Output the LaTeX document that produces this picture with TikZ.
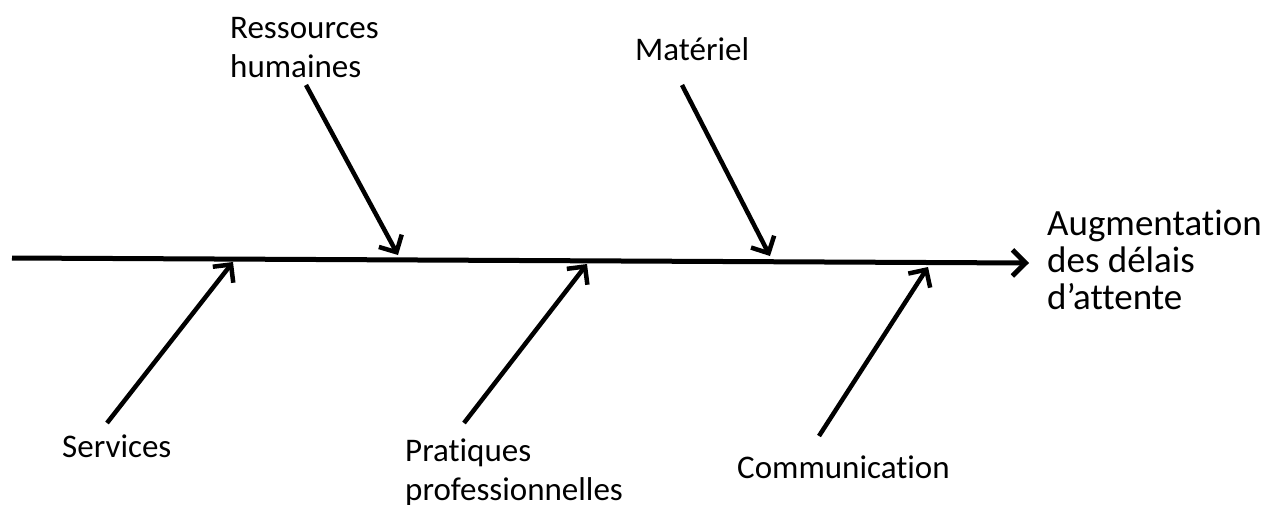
\documentclass[tikz,border=0pt]{standalone}
\usepackage{fontspec}
\setmainfont{Carlito}[Ligatures=NoCommon]
\usepackage{tikz}
\usetikzlibrary{arrows.meta}
\tikzset{>={Straight Barb[length=13pt,width=26pt]}}

\begin{document}
\begin{tikzpicture}[x=1pt, y=-1pt,
    cause/.style={anchor=base west, inner sep=0, align=left, font=\fontsize{33}{39}\selectfont},
    bone/.style={line width=4.5pt, ->}]
    \useasboundingbox (0, 0) rectangle (1267, 504);
    \coordinate (tail) at (12, 258);
    \coordinate (head) at (1029, 263);
    \draw[line width=5pt, ->] (tail) -- (head);
    \node[cause, font=\fontsize{37}{37}\selectfont] (effet) at (1047, 309) {Augmentation\\des délais\\d’attente};

    \node[cause] (rh) at (230, 77) {Ressources\\humaines};
    \node[cause] (mat) at (635, 60) {Matériel};
    \node[cause] (serv) at (62, 457) {Services};
    \node[cause] (prat) at (405, 500) {Pratiques\\professionnelles};
    \node[cause] (comm) at (737, 478) {Communication};

    \coordinate (rh1) at (306, 85);
    \coordinate (rh2) at (398, 255);
    \coordinate (mat1) at (682, 85);
    \coordinate (mat2) at (770, 256);
    \coordinate (serv1) at (107, 423);
    \coordinate (serv2) at (233, 262);
    \coordinate (prat1) at (464, 423);
    \coordinate (prat2) at (587, 264);
    \coordinate (comm1) at (819, 436);
    \coordinate (comm2) at (928, 267);
    \draw[bone] (rh1) -- (rh2);
    \draw[bone] (mat1) -- (mat2);
    \draw[bone] (serv1) -- (serv2);
    \draw[bone] (prat1) -- (prat2);
    \draw[bone] (comm1) -- (comm2);
\end{tikzpicture}
\end{document}
